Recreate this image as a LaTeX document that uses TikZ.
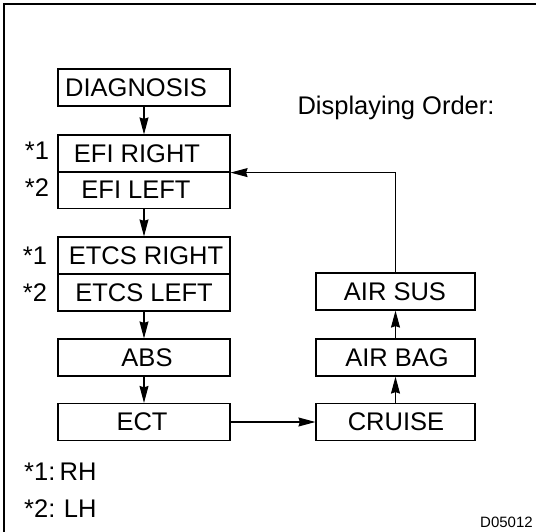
\documentclass[tikz,border=0pt]{standalone}
\usepackage{fontspec}
\setmainfont{Liberation Sans}
\usetikzlibrary{arrows.meta}
\begin{document}
\begin{tikzpicture}[x=1pt,y=-1pt,
  box/.style={draw,line width=1.2pt,minimum width=172pt,minimum height=37pt,inner sep=0pt},
  rbox/.style={box,minimum width=159pt},
  txt/.style={font=\fontsize{25.5}{27}\selectfont,inner sep=0pt},
  arr/.style={line width=1.1pt,-{Stealth[length=17pt,width=9pt,inset=1.5pt]}}]
\useasboundingbox (0,0) rectangle (536,532);
\draw[line width=2.5pt] (4,540) -- (4,4) -- (540,4);
% left column
\node[box] (diag) at (144,87.5) {};
\node[box] (efir) at (144,153.5) {};
\node[box] (efil) at (144,190) {};
\node[box] (etcsr) at (144,255.5) {};
\node[box] (etcsl) at (144,292.5) {};
\node[box] (abs) at (144,357.5) {};
\node[box] (ect) at (144,422) {};
% right column
\node[rbox] (sus) at (395.5,291.5) {};
\node[rbox] (bag) at (395.5,357.5) {};
\node[rbox] (cru) at (395.5,422) {};
% box texts
\node[txt] (tdiag) at (136,87.5) {DIAGNOSIS};
\node[txt] (tefir) at (137,153.5) {EFI RIGHT};
\node[txt] (tefil) at (136,190) {EFI LEFT};
\node[txt] (tetcsr) at (146,255.5) {ETCS RIGHT};
\node[txt] (tetcsl) at (144,292.5) {ETCS LEFT};
\node[txt] (tabs) at (147,357.5) {ABS};
\node[txt] (tect) at (142,422) {ECT};
\node[txt] (tsus) at (395,291.5) {AIR SUS};
\node[txt] (tbag) at (397,357.5) {AIR BAG};
\node[txt] (tcru) at (396,422) {CRUISE};
% labels
\node[txt] (s1a) at (37,151) {*1};
\node[txt] (s2a) at (37,188) {*2};
\node[txt] (s1b) at (35,256) {*1};
\node[txt] (s2b) at (35,293) {*2};
\node[txt] (title) at (396,108) {Displaying Order:};
\node[txt,anchor=west] (k1) at (24,472) {*1:\,RH};
\node[txt,anchor=west] (k2) at (24,509) {*2:\,\,LH};
\node[txt,anchor=base west,font=\fontsize{15}{16}\selectfont] (code) at (480,527) {D05012};
% connectors
\draw[arr] (diag.south) -- (efir.north);
\draw[arr] (efil.south) -- (etcsr.north);
\draw[arr] (etcsl.south) -- (abs.north);
\draw[arr] (abs.south) -- (ect.north);
\draw[arr] (ect.east) -- (cru.west);
\draw[arr] (cru.north) -- (bag.south);
\draw[arr] (bag.north) -- (sus.south);
\coordinate (turn) at (sus.north |- efir.south);
\draw[arr] (sus.north) -- (turn) -- (efir.south east);
\end{tikzpicture}
\end{document}
